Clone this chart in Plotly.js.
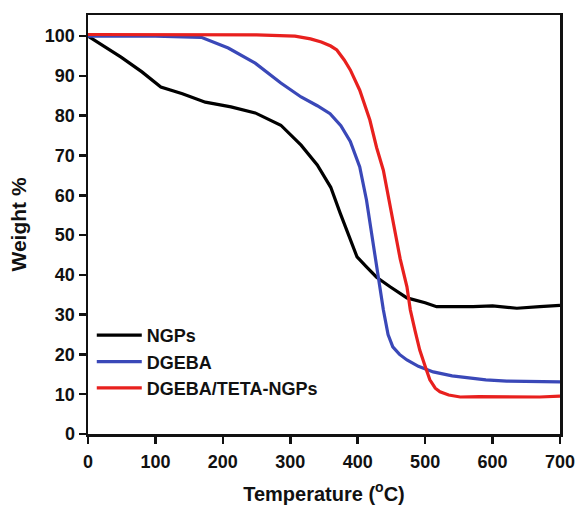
<!DOCTYPE html>
<html>
<head>
<meta charset="utf-8">
<script src="https://cdn.plot.ly/plotly-3.0.1.min.js"></script>
<style>html,body{margin:0;padding:0;background:#fff;}#chart{width:580px;height:510px;}</style>
</head>
<body>
<div id="chart"></div>
<script>
const seriesNames = ["NGPs", "DGEBA", "DGEBA/TETA-NGPs"];

const tempNGPs = [0, 20, 49, 80, 108, 140, 174, 212, 248, 286, 316, 340, 360, 374, 389, 399, 413, 428, 448, 473, 500, 517, 550, 571, 600, 636, 670, 700];
const weightNGPs = [100, 97.8, 94.7, 91, 87.2, 85.5, 83.4, 82.2, 80.7, 77.6, 72.6, 67.6, 62, 55.5, 48.7, 44.5, 42, 39.4, 37, 34.2, 33, 32, 32, 32, 32.2, 31.6, 32, 32.3];

const tempDGEBA = [0, 50, 100, 168, 208, 248, 286, 316, 340, 359, 375, 389, 403, 413, 423, 433, 438, 445, 452, 462, 473, 490, 512, 540, 562, 590, 621, 660, 700];
const weightDGEBA = [100, 100, 100, 99.7, 97, 93.2, 88.2, 84.7, 82.5, 80.5, 77.5, 73.5, 67.1, 58.8, 47.5, 37, 31.2, 25, 21.9, 20, 18.6, 17, 15.6, 14.6, 14.1, 13.6, 13.3, 13.2, 13.1];

const tempTETA = [0, 100, 200, 250, 307, 330, 346, 360, 369, 380, 389, 403, 418, 428, 438, 448, 452, 463, 473, 478, 485, 492, 500, 507, 515, 522, 535, 552, 580, 621, 650, 670, 700];
const weightTETA = [100.4, 100.4, 100.4, 100.3, 100, 99.3, 98.5, 97.5, 96.5, 94, 91.5, 86.4, 78.9, 72, 66.3, 57.5, 54, 44, 37, 31.2, 26, 21.1, 17, 13.6, 11.5, 10.6, 9.8, 9.3, 9.4, 9.3, 9.3, 9.3, 9.5];

const xTicks = [0, 100, 200, 300, 400, 500, 600, 700];
const yTicks = [0, 10, 20, 30, 40, 50, 60, 70, 80, 90, 100];

const colors = ["#000000", "#3a48b8", "#e8201e"];

const traces = [
  {x: tempNGPs, y: weightNGPs, name: seriesNames[0]},
  {x: tempDGEBA, y: weightDGEBA, name: seriesNames[1]},
  {x: tempTETA, y: weightTETA, name: seriesNames[2]}
].map((t, i) => Object.assign(t, {type: "scatter", mode: "lines", line: {color: colors[i], width: 3.2}}));

const fontFam = "Arial, 'Liberation Sans', sans-serif";

const layout = {
  width: 580, height: 510,
  margin: {l: 88, r: 20, t: 15, b: 76},
  paper_bgcolor: "#fff", plot_bgcolor: "#fff",
  font: {family: fontFam, color: "#111", size: 16, weight: "bold"},
  showlegend: true,
  legend: {x: 0.008, y: 0.172, xanchor: "left", yanchor: "middle", bgcolor: "rgba(0,0,0,0)",
    itemwidth: 45,
    font: {family: fontFam, size: 18, weight: "bold", color: "#111"}, tracegroupgap: 0},
  xaxis: {
    range: [0, 700], tickvals: xTicks, ticktext: xTicks.map(String),
    showgrid: false, zeroline: false, showline: true, mirror: true, linecolor: "#111", linewidth: 2.5,
    ticks: "outside", ticklen: 7, tickwidth: 2.5, tickcolor: "#111", ticklabelstandoff: 3,
    tickfont: {family: fontFam, size: 18, weight: "bold", color: "#111"},
    title: {text: "Temperature (<sup>o</sup>C)", font: {family: fontFam, size: 20, weight: "bold", color: "#111"}, standoff: 16}
  },
  yaxis: {
    range: [0, 105.3], tickvals: yTicks, ticktext: yTicks.map(String),
    showgrid: false, zeroline: false, showline: true, mirror: true, linecolor: "#111", linewidth: 2.5,
    ticks: "outside", ticklen: 7, tickwidth: 2.5, tickcolor: "#111",
    tickfont: {family: fontFam, size: 18, weight: "bold", color: "#111"},
    title: {text: "Weight %", font: {family: fontFam, size: 21, weight: "bold", color: "#111"}, standoff: 13}
  }
};

Plotly.newPlot("chart", traces, layout, {displayModeBar: false, staticPlot: true});
</script>
</body>
</html>
